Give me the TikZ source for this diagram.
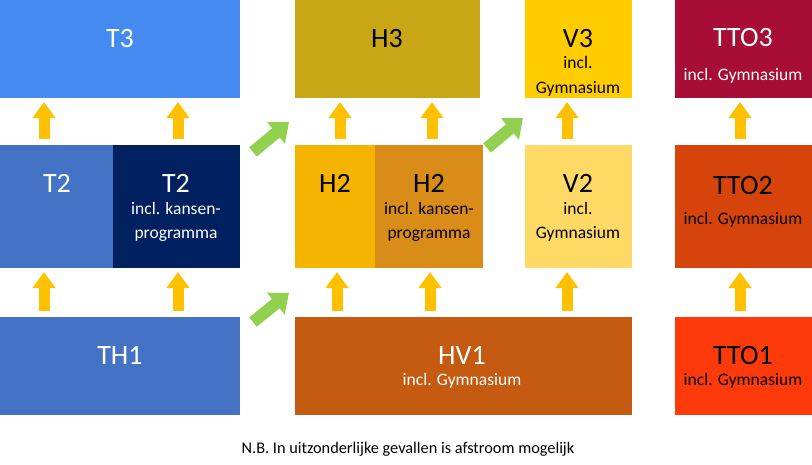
\documentclass[tikz,border=0pt]{standalone}
\usepackage{fontspec}
\setmainfont{Carlito}
\usetikzlibrary{positioning, arrows.meta}

\definecolor{tblauw}{HTML}{448AF0}
\definecolor{tmidden}{HTML}{4472C4}
\definecolor{tdonker}{HTML}{002060}
\definecolor{hmosterd}{HTML}{C9A616}
\definecolor{hgeel}{HTML}{F5B400}
\definecolor{hoker}{HTML}{D98C17}
\definecolor{hvbruin}{HTML}{C55A11}
\definecolor{vgeel}{HTML}{FFCC00}
\definecolor{vlicht}{HTML}{FFD966}
\definecolor{ttorood}{HTML}{A80D35}
\definecolor{ttooranje}{HTML}{D6430B}
\definecolor{ttofel}{HTML}{FF3A0A}
\definecolor{pijloranje}{HTML}{FFC000}
\definecolor{pijlgroen}{HTML}{92D050}

\begin{document}
\begin{tikzpicture}[x=1pt, y=-1pt, %
        blok/.style={rectangle, inner sep=0pt, outer sep=0pt, anchor=north west},
        groot/.style={font=\fontsize{28}{30}\selectfont, anchor=base, inner sep=0pt},
        klein/.style={font=\fontsize{17.5}{21}\selectfont, anchor=base, inner sep=0pt},
        pijl/.style={draw=pijloranje, line width=11pt, shorten <=6pt, shorten >=4pt,
          -{Triangle[width=22pt, length=16pt]}},
        sprong/.style={draw=pijlgroen, line width=12pt, -{Triangle[width=27pt, length=17pt]}}
        ]
        \useasboundingbox (0,0) rectangle (812,464);
        % kolom T
        \node[blok, fill=tblauw, minimum width=240pt, minimum height=98pt] (T3) at (0,0) {};
        \node[blok, fill=tmidden, minimum width=113pt, minimum height=123pt] (T2a) at (0,145) {};
        \node[blok, fill=tdonker, minimum width=127pt, minimum height=123pt, right=0pt of T2a] (T2k) {};
        \node[blok, fill=tmidden, minimum width=240pt, minimum height=98pt] (TH1) at (0,317) {};
        % kolom H
        \node[blok, fill=hmosterd, minimum width=185pt, minimum height=98pt] (H3) at (295,0) {};
        \node[blok, fill=hgeel, minimum width=80pt, minimum height=123pt] (H2a) at (295,145) {};
        \node[blok, fill=hoker, minimum width=108pt, minimum height=123pt, right=0pt of H2a] (H2k) {};
        \node[blok, fill=hvbruin, minimum width=337pt, minimum height=98pt] (HV1) at (295,317) {};
        % kolom V
        \node[blok, fill=vgeel, minimum width=107pt, minimum height=98pt] (V3) at (525,0) {};
        \node[blok, fill=vlicht, minimum width=107pt, minimum height=123pt] (V2) at (525,145) {};
        % kolom TTO
        \node[blok, fill=ttorood, minimum width=137pt, minimum height=98pt] (TTO3) at (675,0) {};
        \node[blok, fill=ttooranje, minimum width=137pt, minimum height=123pt] (TTO2) at (675,145) {};
        \node[blok, fill=ttofel, minimum width=137pt, minimum height=98pt] (TTO1) at (675,317) {};

        % teksten
        \node[groot, white] (T3t) at (120,47) {T3};
        \node[groot, white] (T2at) at (57,192) {T2};
        \node[groot, white] (T2kt) at (176,192) {T2};
        \node[klein, white] (T2kk) at (176,214) {incl. kansen-};
        \node[klein, white] (T2kp) at (176,238) {programma};
        \node[groot, white] (TH1t) at (120,364) {TH1};
        \node[groot] (H3t) at (387,47) {H3};
        \node[groot] (H2at) at (335,192) {H2};
        \node[groot] (H2kt) at (429,192) {H2};
        \node[klein] (H2kk) at (429,214) {incl. kansen-};
        \node[klein] (H2kp) at (429,238) {programma};
        \node[groot, white] (HV1t) at (462,364) {HV1};
        \node[klein, white] (HV1g) at (462,385) {incl. Gymnasium};
        \node[groot] (V3t) at (578,47) {V3};
        \node[klein] (V3i) at (578,68) {incl.};
        \node[klein] (V3g) at (578,93) {Gymnasium};
        \node[groot] (V2t) at (578,192) {V2};
        \node[klein] (V2i) at (578,214) {incl.};
        \node[klein] (V2g) at (578,238) {Gymnasium};
        \node[groot, white] (TTO3t) at (743,46) {TTO3};
        \node[klein, white] (TTO3g) at (743,80) {incl. Gymnasium};
        \node[groot] (TTO2t) at (743,194) {TTO2};
        \node[klein] (TTO2g) at (743,224) {incl. Gymnasium};
        \node[groot] (TTO1t) at (743,364) {TTO1};
        \node[klein] (TTO1g) at (743,385) {incl. Gymnasium};
        \node[font=\fontsize{16.3}{19}\selectfont, anchor=base, inner sep=0pt] (nb) at (408,453)
          {N.B. In uitzonderlijke gevallen is afstroom mogelijk};

        % doorstroom
        \draw[pijl] (44,0 |- T2a.north) -- (44,0 |- T3.south);
        \draw[pijl] (178,0 |- T2k.north) -- (178,0 |- T3.south);
        \draw[pijl] (44,0 |- TH1.north) -- (44,0 |- T2a.south);
        \draw[pijl] (178,0 |- TH1.north) -- (178,0 |- T2k.south);
        \draw[pijl] (340,0 |- H2a.north) -- (340,0 |- H3.south);
        \draw[pijl] (432,0 |- H2k.north) -- (432,0 |- H3.south);
        \draw[pijl] (337,0 |- HV1.north) -- (337,0 |- H2a.south);
        \draw[pijl] (430,0 |- HV1.north) -- (430,0 |- H2k.south);
        \draw[pijl] (567,0 |- V2.north) -- (567,0 |- V3.south);
        \draw[pijl] (567,0 |- HV1.north) -- (567,0 |- V2.south);
        \draw[pijl] (740,0 |- TTO2.north) -- (740,0 |- TTO3.south);
        \draw[pijl] (740,0 |- TTO1.north) -- (740,0 |- TTO2.south);

        % opstroom
        \draw[sprong] ([shift={(13,7)}]T2k.north east) -- ([shift={(-6,-23)}]H2a.north west);
        \draw[sprong] ([shift={(4,3)}]H2k.north east) -- ([shift={(-2,-27)}]V2.north west);
        \draw[sprong] ([shift={(13,5)}]TH1.north east) -- ([shift={(-6,-24)}]HV1.north west);
      \end{tikzpicture}
\end{document}
